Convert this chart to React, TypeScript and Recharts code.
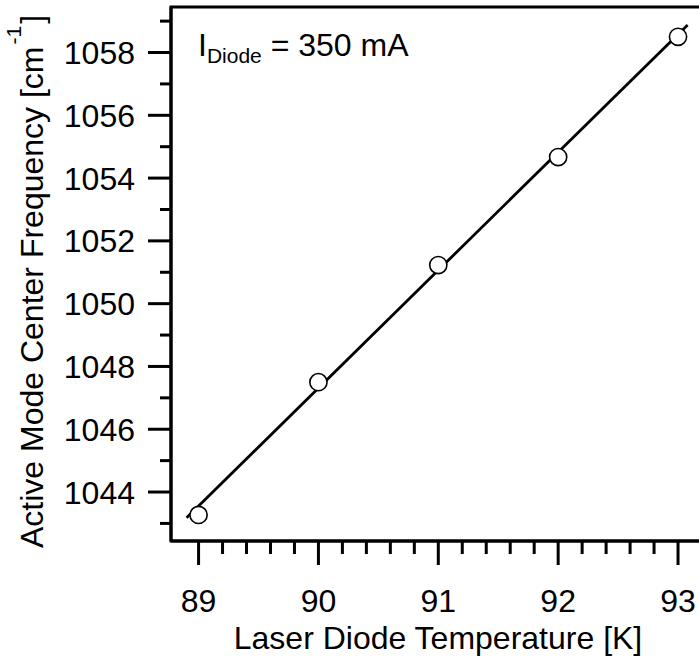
import React from 'react';
import { ComposedChart, Line, Scatter, XAxis, YAxis, ReferenceArea } from 'recharts';

// Data
const temperatures = [89, 90, 91, 92, 93];
const frequencies = [1043.27, 1047.5, 1051.23, 1054.67, 1058.5];
const fitTemperatures = [88.9, 93.08];
const fitFrequencies = [1043.18, 1058.88];

// Axis ticks (major + minor)
const xTicks = [89, 89.2, 89.4, 89.6, 89.8, 90, 90.2, 90.4, 90.6, 90.8, 91, 91.2, 91.4, 91.6, 91.8, 92, 92.2, 92.4, 92.6, 92.8, 93, 93.2];
const xMajorLabels = [89, 90, 91, 92, 93];
const yTicks = [1043, 1044, 1045, 1046, 1047, 1048, 1049, 1050, 1051, 1052, 1053, 1054, 1055, 1056, 1057, 1058, 1059];
const yMajorLabels = [1044, 1046, 1048, 1050, 1052, 1054, 1056, 1058];

const X_DOMAIN: [number, number] = [88.77, 93.2];
const Y_DOMAIN: [number, number] = [1042.44, 1059.45];

const FONT = '"Liberation Sans", Arial, Helvetica, sans-serif';

const points = temperatures.map((t, i) => ({ x: t, y: frequencies[i] }));
const fit = fitTemperatures.map((t, i) => ({ x: t, y: fitFrequencies[i] }));

const isMajor = (list: number[], v: number) => list.some((m) => Math.abs(m - v) < 1e-6);

const XTick = (props: any) => {
  const { x, y, payload } = props;
  const v = payload.value;
  const major = isMajor(xMajorLabels, v);
  return (
    <g>
      <line x1={x} x2={x} y1={y} y2={y + (major ? 24 : 13)} stroke="#000" strokeWidth={3} />
      {major && (
        <text x={x} y={y + 71} textAnchor="middle" fontSize={32} fontFamily={FONT} fill="#000">
          {String(Math.round(v))}
        </text>
      )}
    </g>
  );
};

const YTick = (props: any) => {
  const { x, y, payload } = props;
  const v = payload.value;
  const major = isMajor(yMajorLabels, v);
  return (
    <g>
      <line x1={x} x2={x - (major ? 23 : 11)} y1={y} y2={y} stroke="#000" strokeWidth={3} />
      {major && (
        <text x={x - 36} y={y + 11.5} textAnchor="end" fontSize={32} fontFamily={FONT} fill="#000">
          {String(Math.round(v))}
        </text>
      )}
    </g>
  );
};

const Marker = (props: any) => {
  const { cx, cy } = props;
  return <circle cx={cx} cy={cy} r={8.6} fill="#fff" stroke="#000" strokeWidth={1.6} />;
};

export default function App() {
  return (
    <div style={{ position: 'absolute', left: 0, top: 0, width: 699, height: 659, overflow: 'hidden', background: '#fff' }}>
      <ComposedChart width={712} height={659} margin={{ top: 7, right: 10, bottom: 117, left: 170 }}>
        <XAxis
          dataKey="x"
          type="number"
          domain={X_DOMAIN}
          ticks={xTicks}
          interval={0}
          allowDataOverflow
          height={1}
          tickSize={0}
          tickMargin={0}
          tickLine={false}
          tick={<XTick />}
          axisLine={{ stroke: '#000', strokeWidth: 3 }}
        />
        <YAxis
          dataKey="y"
          type="number"
          domain={Y_DOMAIN}
          ticks={yTicks}
          interval={0}
          allowDataOverflow
          width={1}
          tickSize={0}
          tickMargin={0}
          tickLine={false}
          tick={<YTick />}
          axisLine={{ stroke: '#000', strokeWidth: 3 }}
        />
        <ReferenceArea
          x1={X_DOMAIN[0]}
          x2={X_DOMAIN[1]}
          y1={Y_DOMAIN[0]}
          y2={Y_DOMAIN[1]}
          fill="none"
          fillOpacity={0}
          stroke="#000"
          strokeWidth={3}
          ifOverflow="visible"
        />
        <Line
          data={fit}
          dataKey="y"
          type="linear"
          stroke="#000"
          strokeWidth={2.8}
          dot={false}
          activeDot={false}
          isAnimationActive={false}
        />
        <Scatter data={points} dataKey="y" shape={<Marker />} isAnimationActive={false} />
      </ComposedChart>
      <svg width={699} height={659} style={{ position: 'absolute', left: 0, top: 0, pointerEvents: 'none' }}>
        <text x={198} y={56} fontSize={32} fontFamily={FONT} fill="#000">
          I<tspan fontSize={21} dy={7}>Diode</tspan>
          <tspan dy={-7}> = 350 mA</tspan>
        </text>
        <text x={438} y={649} textAnchor="middle" fontSize={32} fontFamily={FONT} fill="#000">
          Laser Diode Temperature [K]
        </text>
        <text transform="translate(43,548) rotate(-90)" x={0} y={0} textAnchor="start" fontSize={32} fontFamily={FONT} fill="#000">
          Active Mode Center Frequency [cm<tspan fontSize={21} dy={-22} dx={2}>-1</tspan>
          <tspan dy={22} dx={2}>]</tspan>
        </text>
      </svg>
    </div>
  );
}
